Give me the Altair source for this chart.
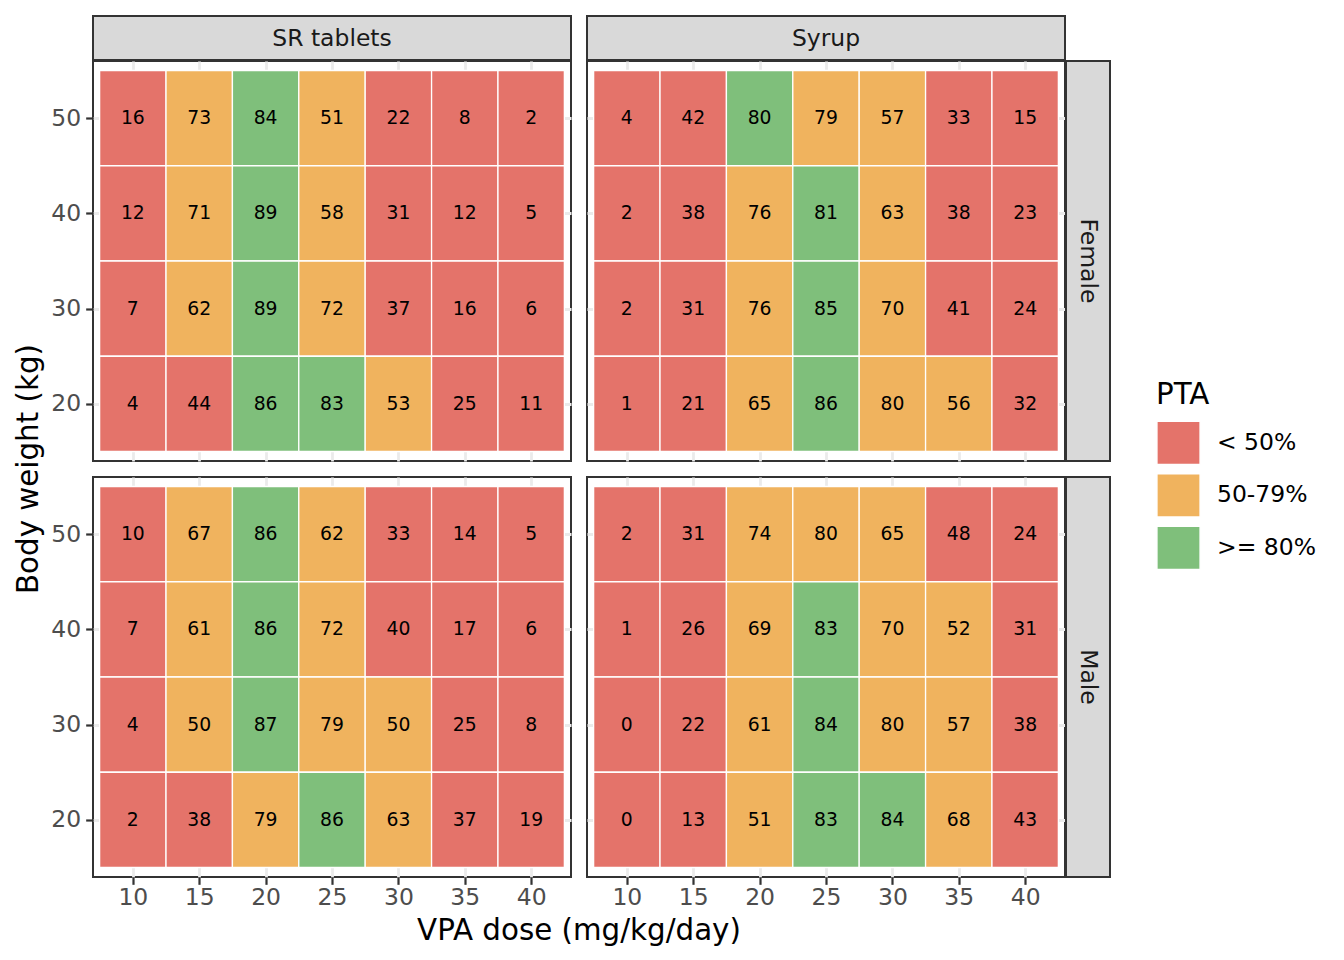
import altair as alt
import pandas as pd
import numpy as np

# ---------------- data ----------------
doses = [10, 15, 20, 25, 30, 35, 40]
weights = [50, 40, 30, 20]
formulations = ["SR tablets", "Syrup"]
sexes = ["Female", "Male"]

# PTA (%) per body weight (rows, 50 -> 20 kg) and dose (columns, 10 -> 40)
# (cells printed as "80" but coloured in the 50-79% band are just under 80)
pta_sr_female = [
    [16, 73, 84, 51, 22, 8, 2],
    [12, 71, 89, 58, 31, 12, 5],
    [7, 62, 89, 72, 37, 16, 6],
    [4, 44, 86, 83, 53, 25, 11],
]
pta_syrup_female = [
    [4, 42, 80, 79, 57, 33, 15],
    [2, 38, 76, 81, 63, 38, 23],
    [2, 31, 76, 85, 70, 41, 24],
    [1, 21, 65, 86, 79.7, 56, 32],
]
pta_sr_male = [
    [10, 67, 86, 62, 33, 14, 5],
    [7, 61, 86, 72, 40, 17, 6],
    [4, 50, 87, 79, 50, 25, 8],
    [2, 38, 79, 86, 63, 37, 19],
]
pta_syrup_male = [
    [2, 31, 74, 79.7, 65, 48, 24],
    [1, 26, 69, 83, 70, 52, 31],
    [0, 22, 61, 84, 79.7, 57, 38],
    [0, 13, 51, 83, 84, 68, 43],
]

categories = ["< 50%", "50-79%", ">= 80%"]
cat_colors = ["#E4736A", "#F0B35E", "#7FBF7B"]

# ---------------- styling constants ----------------
FONT = "DejaVu Sans"
PANEL_W, PANEL_H = 478, 400
STRIP = 44
AX_TEXT = 23.47
AX_TITLE = 29.33
TILE_TEXT = 18.8


def panel_df(values):
    rows = []
    for wi, w in enumerate(weights):
        for di, d in enumerate(doses):
            v = values[wi][di]
            rows.append({"dose": d, "weight": w, "pta": v})
    df = pd.DataFrame(rows)
    df["cat"] = np.where(df["pta"] >= 80, categories[2],
                         np.where(df["pta"] >= 50, categories[1], categories[0]))
    return df


def blank(w, h):
    return alt.Chart(pd.DataFrame({"v": [0]})).mark_point(opacity=0).encode(
        x=alt.value(0), y=alt.value(0)
    ).properties(width=w, height=h)


def panel(values, left, bottom):
    df = panel_df(values)
    x_axis = alt.Axis(
        values=doses, title=None, labels=bottom, ticks=bottom, domain=False,
        grid=True, gridColor="#EBEBEB", gridWidth=2.8,
        labelFontSize=AX_TEXT, labelColor="#4D4D4D", labelFont=FONT,
        tickColor="#333333", tickSize=7.33, tickWidth=2.2, labelPadding=1.5,
    )
    y_axis = alt.Axis(
        values=weights, title=None, labels=left, ticks=left, domain=False,
        grid=True, gridColor="#EBEBEB", gridWidth=2.8,
        labelFontSize=AX_TEXT, labelColor="#4D4D4D", labelFont=FONT,
        tickColor="#333333", tickSize=7.33, tickWidth=2.2, labelPadding=5,
    )
    xs = alt.Scale(domain=[7, 43], nice=False, zero=False)
    ys = alt.Scale(domain=[14, 56], nice=False, zero=False)
    base = alt.Chart(df).transform_calculate(
        x0="datum.dose - 2.5", x1="datum.dose + 2.5",
        y0="datum.weight - 5", y1="datum.weight + 5",
    )
    tiles = base.mark_rect(stroke="white", strokeWidth=1.3).encode(
        x=alt.X("x0:Q", scale=xs, axis=x_axis),
        x2="x1:Q",
        y=alt.Y("y0:Q", scale=ys, axis=y_axis),
        y2="y1:Q",
        color=alt.Color(
            "cat:N",
            scale=alt.Scale(domain=categories, range=cat_colors),
            sort=categories,
            legend=alt.Legend(
                title="PTA", orient="none", legendX=1143, legendY=365,
                titleFontSize=AX_TITLE, titleFont=FONT, titleFontWeight="normal",
                titleColor="black", titlePadding=10,
                labelFontSize=AX_TEXT, labelFont=FONT, labelColor="black",
                labelOffset=16, symbolType="square", symbolSize=1870,
                symbolStrokeColor="white", symbolStrokeWidth=1.5,
                symbolOpacity=1, rowPadding=1.5, padding=0,
            ),
        ),
    )
    labels = base.mark_text(fontSize=TILE_TEXT, color="black", font=FONT).encode(
        x=alt.X("dose:Q", scale=xs, axis=x_axis),
        y=alt.Y("weight:Q", scale=ys, axis=y_axis),
        text=alt.Text("pta:Q", format=".0f"),
    )
    return alt.layer(tiles, labels).properties(
        width=PANEL_W, height=PANEL_H,
        view=alt.ViewBackground(stroke="#333333", strokeWidth=2),
    )


def strip_top(label):
    return alt.Chart(pd.DataFrame({"t": [label]})).mark_text(
        fontSize=AX_TEXT, color="#1A1A1A", font=FONT, baseline="middle", align="center"
    ).encode(
        text="t:N", x=alt.value(PANEL_W / 2), y=alt.value(STRIP / 2 + 1)
    ).properties(
        width=PANEL_W, height=STRIP,
        view=alt.ViewBackground(fill="#D9D9D9", stroke="#333333", strokeWidth=2),
    )


def strip_right(label):
    return alt.Chart(pd.DataFrame({"t": [label]})).mark_text(
        fontSize=AX_TEXT, color="#1A1A1A", font=FONT, angle=90,
        baseline="middle", align="center"
    ).encode(
        text="t:N", x=alt.value(STRIP / 2), y=alt.value(PANEL_H / 2)
    ).properties(
        width=STRIP, height=PANEL_H,
        view=alt.ViewBackground(fill="#D9D9D9", stroke="#333333", strokeWidth=2),
    )


y_title = alt.Chart(pd.DataFrame({"t": ["Body weight (kg)"]})).mark_text(
    fontSize=AX_TITLE, color="black", font=FONT, angle=270,
    baseline="middle", align="center"
).encode(text="t:N", x=alt.value(16), y=alt.value(7)).properties(width=79, height=14)

x_title = alt.Chart(pd.DataFrame({"t": ["VPA dose (mg/kg/day)"]})).mark_text(
    fontSize=AX_TITLE, color="black", font=FONT, baseline="middle", align="center"
).encode(text="t:N", x=alt.value(7), y=alt.value(53)).properties(width=14, height=70)

COLS = [79, PANEL_W, 14, PANEL_W, STRIP]
ROWS = [STRIP, PANEL_H, 14, PANEL_H, 70]

cells = [
    # row 0: strips on top
    blank(COLS[0], ROWS[0]), strip_top(formulations[0]), blank(COLS[2], ROWS[0]),
    strip_top(formulations[1]), blank(COLS[4], ROWS[0]),
    # row 1: Female
    blank(COLS[0], ROWS[1]), panel(pta_sr_female, True, False), blank(COLS[2], ROWS[1]),
    panel(pta_syrup_female, False, False), strip_right(sexes[0]),
    # row 2: spacer (y title)
    y_title, blank(COLS[1], ROWS[2]), blank(COLS[2], ROWS[2]),
    blank(COLS[3], ROWS[2]), blank(COLS[4], ROWS[2]),
    # row 3: Male
    blank(COLS[0], ROWS[3]), panel(pta_sr_male, True, True), blank(COLS[2], ROWS[3]),
    panel(pta_syrup_male, False, True), strip_right(sexes[1]),
    # row 4: x title
    blank(COLS[0], ROWS[4]), blank(COLS[1], ROWS[4]), x_title,
    blank(COLS[3], ROWS[4]), blank(COLS[4], ROWS[4]),
]

chart = alt.concat(
    *cells, columns=5, spacing=1, bounds="flush", align="each"
).resolve_scale(
    color="shared", x="independent", y="independent"
).resolve_legend(
    color="shared"
).properties(
    padding={"left": 2, "top": 5, "right": 5, "bottom": 5}
).configure(
    font=FONT
).configure_view(
    strokeWidth=0
)

chart.save("out.html", embed_options={"renderer": "svg", "actions": False})
